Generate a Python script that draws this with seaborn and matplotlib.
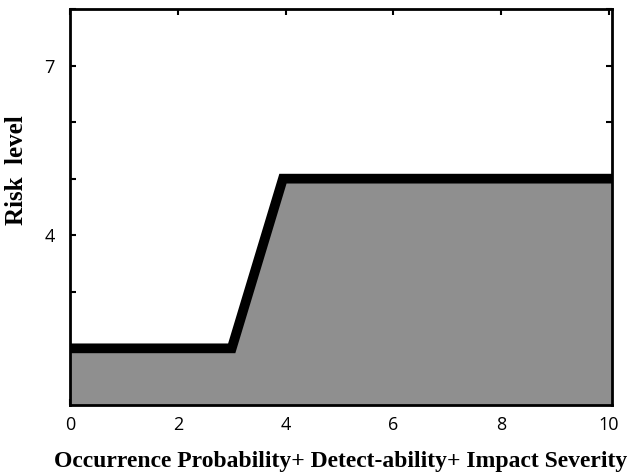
import numpy as np
import pandas as pd
import seaborn as sns
import matplotlib.pyplot as plt

# data
x_vals = [0, 3, 3.95, 10.05]
risk = [2.0, 2.0, 5.0, 5.0]
x_ticks = [0, 2, 4, 6, 8, 10]
y_ticks = [1, 2, 3, 4, 5, 6, 7, 8]
y_labels = ['', '', '', '4', '', '', '7', '']

df = pd.DataFrame({'x': x_vals, 'risk': risk})

sns.set_style('ticks')
fig = plt.figure(figsize=(6.42, 4.73), dpi=100)
ax = fig.add_axes([0.109, 0.144, 0.844, 0.837])

ax.fill_between(df['x'], 1, df['risk'], color='#8f8f8f', linewidth=0)
sns.lineplot(df, x='x', y='risk', ax=ax, color='black', linewidth=7,
             solid_joinstyle='miter', estimator=None, sort=False)

ax.set_xlim(0, 10.05)
ax.set_ylim(1, 8)
ax.set_xticks(x_ticks)
ax.set_yticks(y_ticks)
ax.set_yticklabels(y_labels)
ax.tick_params(direction='in', length=4, width=1.5, top=True, right=True,
               labelsize=13, colors='black')
ax.tick_params(axis='x', pad=8)
ax.tick_params(axis='y', pad=11)
for lab in ax.get_xticklabels() + ax.get_yticklabels():
    lab.set_family('Open Sans')
for s in ax.spines.values():
    s.set_linewidth(2)
    s.set_color('black')

ax.set_xlabel('Occurrence Probability+ Detect-ability+ Impact Severity',
              family='Liberation Serif', fontweight='bold', fontsize=17,
              color='black', labelpad=12)
ax.set_ylabel('Risk  level', family='Liberation Serif', fontweight='bold',
              fontsize=18, color='black')
ax.yaxis.set_label_coords(-0.077, 0.593)

fig.savefig('out.png', dpi=100)
